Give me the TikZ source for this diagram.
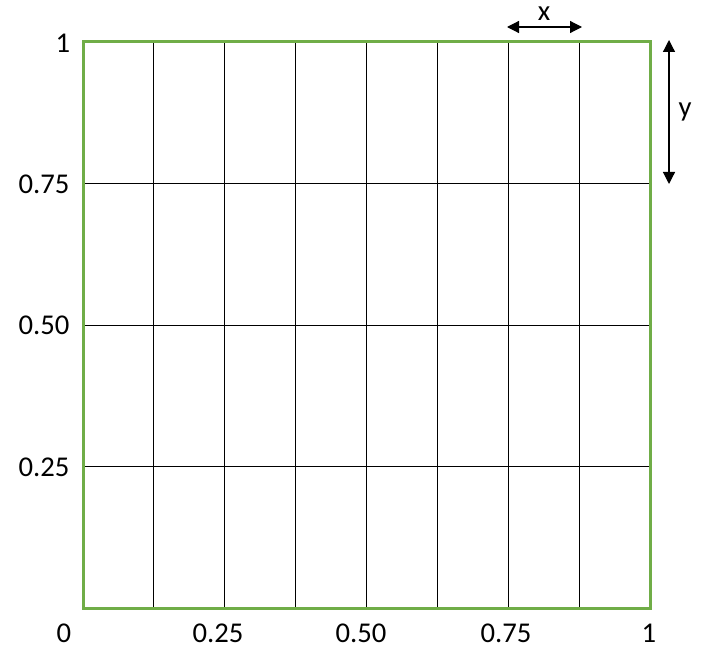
\documentclass[tikz,border=0pt]{standalone}
\usepackage{fontspec}
\setmainfont{Carlito}
\usepackage{xcolor}
\usetikzlibrary{arrows.meta}

\definecolor{framegreen}{HTML}{70AD47}

\begin{document}
\begin{tikzpicture}[x=0.75pt,y=-0.75pt,font=\fontsize{21.5}{25}\selectfont,
  gridline/.style={black,line width=0.75pt},
  dimarrow/.style={black,line width=0.9pt,{Triangle[length=9pt,width=9pt]}-{Triangle[length=9pt,width=9pt]}}]
  \useasboundingbox (0,0) rectangle (721,656);
  % grid lines
  \foreach \i in {1,...,7}
    \draw[gridline] (83+\i*70.875,42) -- (83+\i*70.875,608);
  \foreach \j in {1,2,3}
    \draw[gridline] (83,42+\j*141.5) -- (650,42+\j*141.5);
  % frame
  \draw[framegreen,line width=2.25pt] (83,42) rectangle (650,608);
  % axis labels
  \node (ltop) at (63,43) {1};
  \node (l75) at (44,184) {0.75};
  \node (l50) at (44,325) {0.50};
  \node (l25) at (44,467) {0.25};
  \node (bzero) at (64,633) {0};
  \node (b25) at (218,633) {0.25};
  \node (b50) at (361,633) {0.50};
  \node (b75) at (506,633) {0.75};
  \node (bone) at (649,633) {1};
  % dimension arrows
  \coordinate (xl) at (507,27);
  \coordinate (xr) at (582,27);
  \draw[dimarrow] (xl) -- (xr);
  \node[inner sep=0pt] (xlab) at (544,14) {x};
  \coordinate (yt) at (669,40);
  \coordinate (yb) at (669,184);
  \draw[dimarrow] (yt) -- (yb);
  \node (ylab) at (685,112) {y};
\end{tikzpicture}
\end{document}
